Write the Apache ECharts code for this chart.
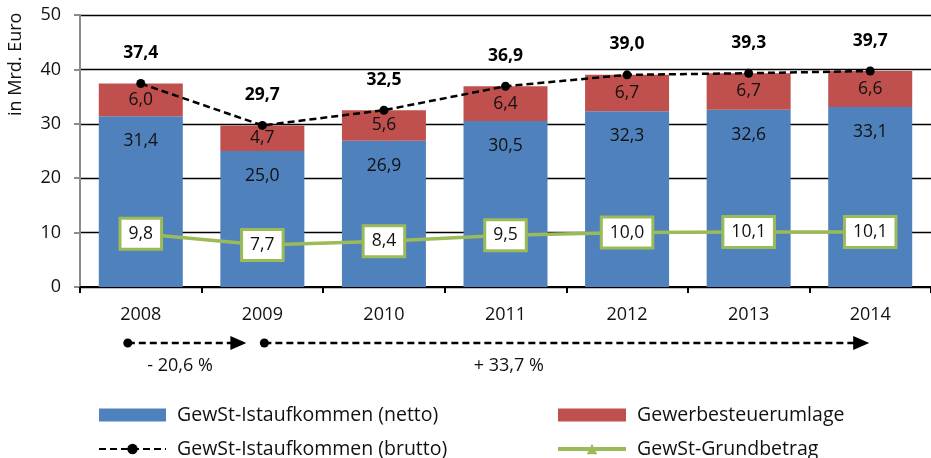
<!DOCTYPE html>
<html>
<head>
<meta charset="utf-8">
<script src="https://cdn.jsdelivr.net/npm/echarts@6/dist/echarts.min.js"></script>
<style>
html, body { margin: 0; padding: 0; background: #fff; }
#main { width: 931px; height: 458px; }
</style>
</head>
<body>
<div id="main"></div>
<script>
// Jahre und Werte (Mrd. Euro)
var jahre = ['2008', '2009', '2010', '2011', '2012', '2013', '2014'];
var netto = [31.4, 25.0, 26.9, 30.5, 32.3, 32.6, 33.1];
var umlage = [6.0, 4.7, 5.6, 6.4, 6.7, 6.7, 6.6];
var brutto = [37.4, 29.7, 32.5, 36.9, 39.0, 39.3, 39.7];
var grundbetrag = [9.8, 7.7, 8.4, 9.5, 10.0, 10.1, 10.1];
var yTicks = [0, 10, 20, 30, 40, 50];
// Veraenderungen brutto
var pfeile = [
    { von: '2008', bis: '2009', text: '- 20,6 %' },
    { von: '2009', bis: '2014', text: '+ 33,7 %' }
];

var FONT = '"Open Sans", "Noto Sans", sans-serif';

function komma(v) {
    return v.toFixed(1).replace('.', ',');
}

var dom = document.getElementById('main');
var myChart = echarts.init(dom);

var legendText = { fontSize: 19.5, color: '#111', fontFamily: FONT, padding: [0, 0, 0, 6] };

var option = {
    animation: false,
    textStyle: { fontFamily: FONT },
    grid: {
        left: 80,
        top: 15,
        width: 854,
        height: 272
    },
    legend: [{
        orient: 'vertical',
        left: 93,
        top: 400,
        height: 90,
        itemWidth: 67,
        itemHeight: 13,
        itemGap: 14,
        textStyle: legendText,
        data: [
            { name: 'GewSt-Istaufkommen (netto)', icon: 'rect' },
            { name: 'GewSt-Istaufkommen (brutto)' }
        ]
    }, {
        orient: 'vertical',
        left: 551,
        top: 400,
        height: 90,
        itemWidth: 68,
        itemHeight: 13,
        itemGap: 14,
        textStyle: legendText,
        data: [
            { name: 'Gewerbesteuerumlage', icon: 'rect' },
            { name: 'GewSt-Grundbetrag', lineStyle: { width: 4 } }
        ]
    }],
    xAxis: {
        type: 'category',
        data: jahre,
        axisLine: { lineStyle: { color: '#000', width: 2 } },
        axisTick: { show: true, length: 6, lineStyle: { color: '#000', width: 2 } },
        axisLabel: { fontSize: 18, color: '#111', margin: 19, fontFamily: FONT }
    },
    yAxis: {
        type: 'value',
        min: yTicks[0],
        max: yTicks[yTicks.length - 1],
        interval: 10,
        axisLine: { show: true, lineStyle: { color: '#8c8c8c', width: 2 } },
        axisTick: { show: true, length: 6, lineStyle: { color: '#8c8c8c', width: 2 } },
        axisLabel: { fontSize: 18, color: '#111', margin: 19, fontFamily: FONT },
        splitLine: { lineStyle: { color: '#000', width: 1.3 } }
    },
    series: [{
        name: 'GewSt-Istaufkommen (netto)',
        type: 'bar',
        stack: 'gewst',
        barWidth: 84,
        data: netto,
        itemStyle: { color: '#4f81bd' },
        label: {
            show: true,
            position: 'insideTop',
            distance: 16,
            fontSize: 17.5,
            color: '#111',
            fontFamily: FONT,
            formatter: function (p) { return komma(p.value); }
        }
    }, {
        name: 'Gewerbesteuerumlage',
        type: 'bar',
        stack: 'gewst',
        barWidth: 84,
        data: umlage,
        itemStyle: { color: '#c0504d' },
        label: {
            show: true,
            position: 'inside',
            fontSize: 17.5,
            color: '#111',
            fontFamily: FONT,
            formatter: function (p) { return komma(p.value); }
        }
    }, {
        name: 'GewSt-Istaufkommen (brutto)',
        type: 'line',
        data: brutto,
        z: 5,
        symbol: 'circle',
        symbolSize: 9,
        itemStyle: { color: '#000' },
        lineStyle: { color: '#000', width: 2.5, type: [7, 4] },
        label: {
            show: true,
            position: 'top',
            distance: 17,
            fontSize: 17.5,
            fontWeight: 'bold',
            color: '#000',
            fontFamily: FONT,
            formatter: function (p) { return komma(p.value); }
        }
    }, {
        name: 'GewSt-Grundbetrag',
        type: 'line',
        data: grundbetrag,
        z: 6,
        symbol: 'triangle',
        symbolSize: 12,
        itemStyle: { color: '#9bbb59' },
        lineStyle: { color: '#9bbb59', width: 3.5 },
        label: {
            show: true,
            position: 'inside',
            fontSize: 17.5,
            color: '#111',
            fontFamily: FONT,
            backgroundColor: '#fff',
            borderColor: '#9bbb59',
            borderWidth: 3,
            padding: [6, 7, 4, 7],
            formatter: function (p) { return komma(p.value); }
        }
    }]
};

myChart.setOption(option);

// Achsentitel und Pfeile unter der Achse
var pfeilY = 343;
var graphics = [{
    type: 'text',
    rotation: Math.PI / 2,
    style: {
        text: 'in Mrd. Euro',
        fontSize: 18,
        fontFamily: FONT,
        fill: '#111'
    },
    x: 7, y: 116
}];

pfeile.forEach(function (p, i) {
    var x1 = myChart.convertToPixel({ xAxisIndex: 0 }, p.von) - (i === 0 ? 13 : -2);
    var x2 = myChart.convertToPixel({ xAxisIndex: 0 }, p.bis) - (i === 0 ? 16 : 1);
    graphics.push({
        type: 'line',
        shape: { x1: x1, y1: pfeilY, x2: x2 - 14, y2: pfeilY },
        style: { stroke: '#000', lineWidth: 2.5, lineDash: [7, 4] }
    });
    graphics.push({
        type: 'circle',
        shape: { cx: x1, cy: pfeilY, r: 4.5 },
        style: { fill: '#000' }
    });
    graphics.push({
        type: 'polygon',
        shape: { points: [[x2 - 16, pfeilY - 7], [x2, pfeilY], [x2 - 16, pfeilY + 7]] },
        style: { fill: '#000' }
    });
    graphics.push({
        type: 'text',
        style: {
            text: p.text,
            fontSize: 18,
            fontFamily: FONT,
            fill: '#111',
            align: 'center',
            verticalAlign: 'middle'
        },
        x: i === 0 ? 180 : (x1 + x2) / 2 - 58,
        y: 366
    });
});

myChart.setOption({ graphic: graphics });
</script>
</body>
</html>
